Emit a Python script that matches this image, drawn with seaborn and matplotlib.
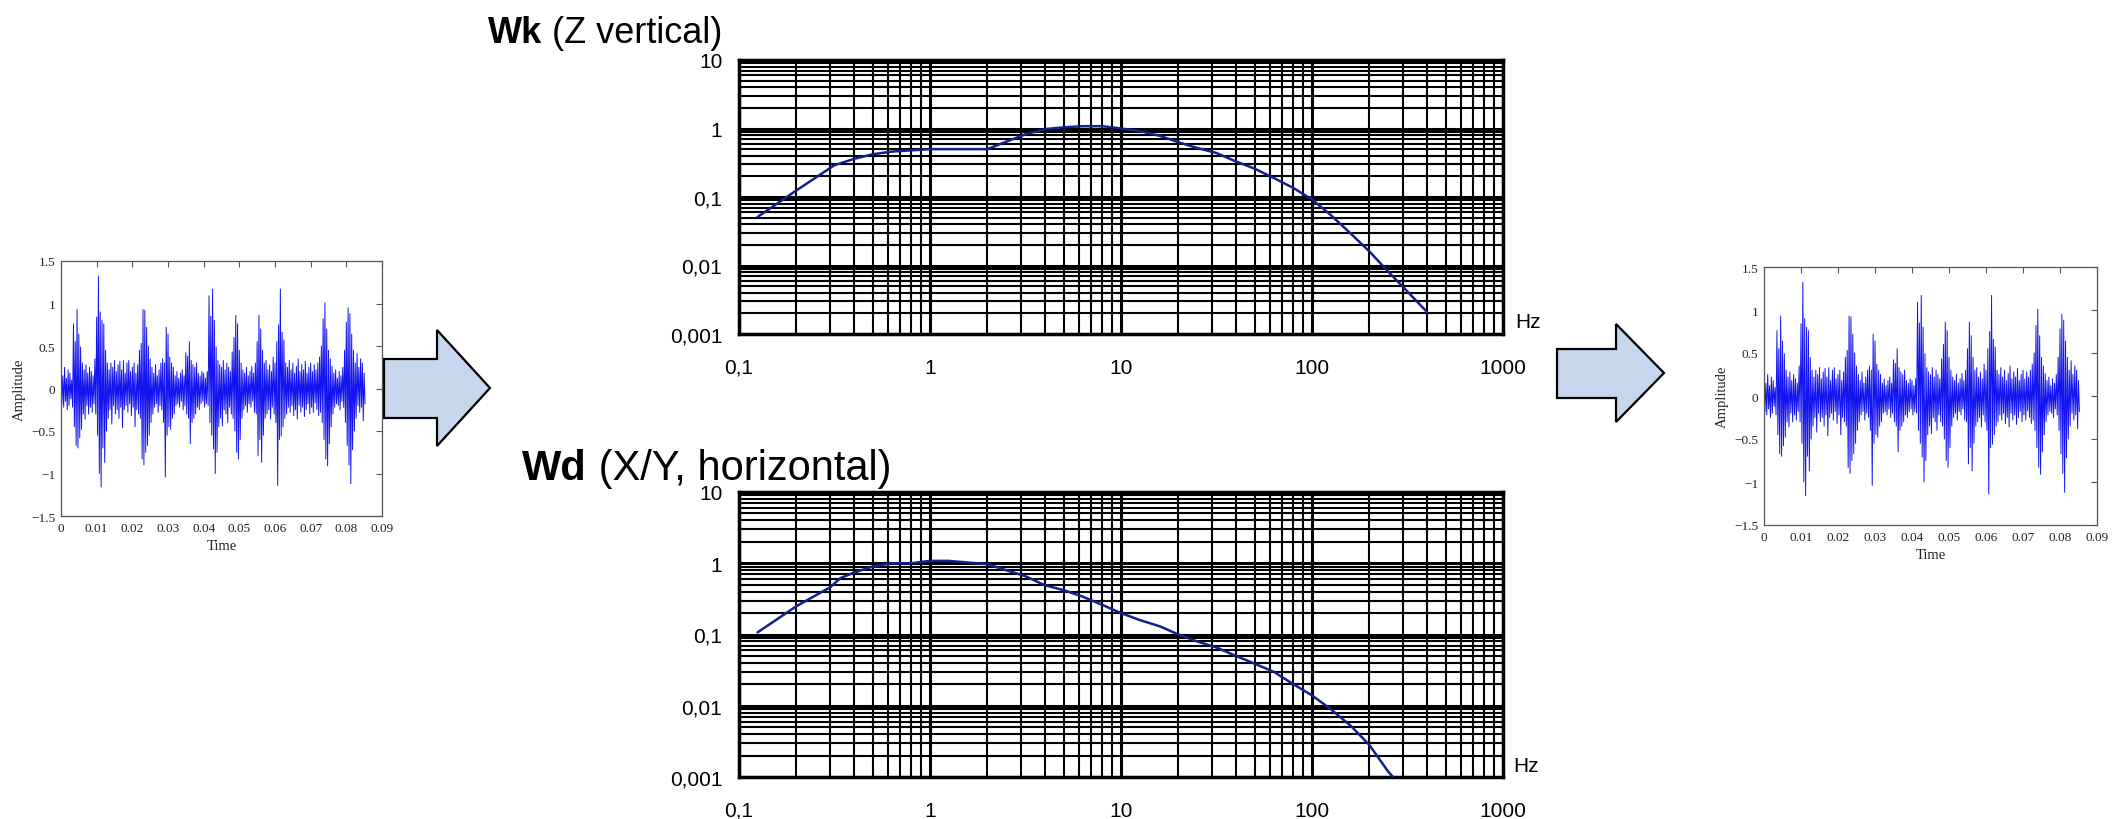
import numpy as np
import pandas as pd
import seaborn as sns
import matplotlib.pyplot as plt
from matplotlib.patches import Polygon
from matplotlib.ticker import LogLocator, NullFormatter

# frequency weighting curves
wk_freq = [0.125, 0.2, 0.315, 0.4, 0.5, 0.63, 0.8, 1.0, 2.0, 2.5, 3.15, 4.0, 5.0, 6.3, 8.0,
           10, 12.5, 16, 20, 25, 31.5, 40, 50, 63, 80, 100, 125, 160, 200, 250, 315, 400]
wk_gain = [0.051, 0.125, 0.29, 0.36, 0.42, 0.46, 0.48, 0.50, 0.50, 0.64, 0.82, 0.98, 1.04, 1.08, 1.08,
           1.0, 0.92, 0.78, 0.63, 0.52, 0.44, 0.33, 0.26, 0.19, 0.135, 0.092, 0.055, 0.029, 0.016,
           0.0082, 0.0042, 0.0021]
wd_freq = [0.125, 0.2, 0.3, 0.34, 0.4, 0.5, 0.63, 0.8, 1.0, 1.25, 2.0, 2.5, 3.15, 4.0, 5.0, 6.3, 8.0,
           10, 12.5, 16, 20, 25, 31.5, 40, 50, 63, 80, 100, 125, 160, 200, 250, 315]
wd_gain = [0.107, 0.25, 0.46, 0.62, 0.74, 0.90, 1.0, 1.0, 1.08, 1.08, 0.97, 0.80, 0.66, 0.49, 0.42, 0.34,
           0.26, 0.20, 0.16, 0.13, 0.10, 0.08, 0.066, 0.05, 0.039, 0.03, 0.02, 0.014, 0.009, 0.0052,
           0.0028, 0.0012, 0.0006]

# signal: upper / lower swing in every 0.5 ms slot
sig_step = 0.0005
sig_hi = [0.20, 0.15, 0.25, 0.12, 0.22, 0.18, 0.10, 0.76, 0.55, 0.93,
          0.64, 0.49, 0.30, 0.22, 0.28, 0.18, 0.25, 0.20, 0.15, 0.35,
          0.84, 1.32, 0.90, 0.80, 0.76, 0.45, 0.30, 0.22, 0.30, 0.25,
          0.33, 0.20, 0.28, 0.32, 0.22, 0.33, 0.18, 0.30, 0.33, 0.20,
          0.25, 0.30, 0.18, 0.28, 0.45, 0.53, 0.93, 0.92, 0.72, 0.50,
          0.35, 0.25, 0.18, 0.28, 0.15, 0.22, 0.30, 0.35, 0.30, 0.72,
          0.64, 0.37, 0.30, 0.25, 0.15, 0.20, 0.12, 0.18, 0.22, 0.15,
          0.42, 0.38, 0.55, 0.33, 0.28, 0.25, 0.30, 0.18, 0.15, 0.20,
          0.18, 0.12, 0.20, 1.09, 0.85, 1.17, 0.80, 0.49, 0.33, 0.28,
          0.25, 0.33, 0.22, 0.30, 0.25, 0.20, 0.43, 0.60, 0.86, 0.76,
          0.45, 0.30, 0.22, 0.18, 0.25, 0.15, 0.20, 0.26, 0.18, 0.30,
          0.55, 0.86, 0.70, 0.45, 0.30, 0.33, 0.22, 0.28, 0.20, 0.37,
          0.30, 0.55, 0.75, 1.17, 0.66, 0.57, 0.30, 0.25, 0.33, 0.22,
          0.30, 0.18, 0.26, 0.35, 0.20, 0.28, 0.22, 0.32, 0.18, 0.25,
          0.30, 0.20, 0.28, 0.22, 0.30, 0.37, 0.50, 0.82, 1.01, 0.70,
          0.45, 0.35, 0.26, 0.18, 0.22, 0.12, 0.20, 0.15, 0.25, 0.45,
          0.78, 0.95, 0.88, 0.64, 0.45, 0.30, 0.41, 0.25, 0.35, 0.30,
          0.18]
sig_lo = [-0.18, -0.22, -0.15, -0.25, -0.20, -0.12, -0.22, -0.45, -0.67, -0.70,
          -0.58, -0.48, -0.30, -0.36, -0.20, -0.30, -0.22, -0.28, -0.18, -0.30,
          -0.55, -1.00, -1.16, -0.70, -0.87, -0.50, -0.35, -0.25, -0.42, -0.20,
          -0.30, -0.25, -0.35, -0.22, -0.46, -0.25, -0.20, -0.28, -0.18, -0.32,
          -0.22, -0.45, -0.25, -0.30, -0.35, -0.83, -0.90, -0.75, -0.67, -0.55,
          -0.40, -0.30, -0.22, -0.18, -0.28, -0.20, -0.25, -0.40, -1.04, -0.55,
          -0.45, -0.48, -0.35, -0.30, -0.20, -0.18, -0.22, -0.15, -0.25, -0.20,
          -0.30, -0.35, -0.65, -0.40, -0.35, -0.30, -0.22, -0.25, -0.18, -0.15,
          -0.22, -0.18, -0.20, -0.40, -0.55, -0.71, -1.00, -0.75, -0.45, -0.35,
          -0.44, -0.25, -0.30, -0.40, -0.22, -0.30, -0.35, -0.50, -0.75, -0.83,
          -0.60, -0.35, -0.25, -0.20, -0.28, -0.18, -0.22, -0.15, -0.28, -0.30,
          -0.79, -0.60, -0.87, -0.55, -0.35, -0.30, -0.25, -0.36, -0.22, -0.30,
          -0.40, -1.14, -0.60, -0.56, -0.45, -0.35, -0.30, -0.22, -0.28, -0.20,
          -0.32, -0.25, -0.36, -0.20, -0.28, -0.22, -0.33, -0.25, -0.18, -0.30,
          -0.22, -0.28, -0.17, -0.25, -0.32, -0.28, -0.40, -0.60, -0.83, -0.91,
          -0.65, -0.45, -0.30, -0.22, -0.18, -0.20, -0.25, -0.15, -0.22, -0.40,
          -0.67, -0.90, -1.12, -0.72, -0.50, -0.35, -0.20, -0.28, -0.22, -0.38,
          -0.18]

freq_ticks = [0.1, 1, 10, 100, 1000]
freq_labels = ['0,1', '1', '10', '100', '1000']
gain_ticks = [0.001, 0.01, 0.1, 1, 10]
gain_labels = ['0,001', '0,01', '0,1', '1', '10']
time_ticks = [0, 0.01, 0.02, 0.03, 0.04, 0.05, 0.06, 0.07, 0.08, 0.09]
time_labels = ['0', '0.01', '0.02', '0.03', '0.04', '0.05', '0.06', '0.07', '0.08', '0.09']
amp_ticks = [-1.5, -1, -0.5, 0, 0.5, 1, 1.5]
amp_labels = ['\u22121.5', '\u22121', '\u22120.5', '0', '0.5', '1', '1.5']

W, H = 2123, 820
sns.set_theme(style='white')
plt.rcParams['font.family'] = ['Liberation Sans', 'DejaVu Sans']
plt.rcParams['text.color'] = 'black'

fig = plt.figure(figsize=(W / 100, H / 100), dpi=100)


def px_box(x0, y0, x1, y1):
    return [x0 / W, 1 - y1 / H, (x1 - x0) / W, (y1 - y0) / H]


# arrows, in pixel coordinates of the whole figure
bg = fig.add_axes([0, 0, 1, 1])
bg.set_xlim(0, W)
bg.set_ylim(H, 0)
bg.axis('off')
for pts in ([(384, 360), (437, 360), (437, 331), (490, 389), (437, 447), (437, 419), (384, 419)],
            [(1557, 350), (1616, 350), (1616, 325), (1664, 374), (1616, 423), (1616, 399), (1557, 399)]):
    bg.add_patch(Polygon(pts, closed=True, facecolor='#c6d6ec', edgecolor='black', lw=1.6))

n = len(sig_hi)
t0 = np.arange(n) * sig_step
sig = pd.DataFrame({'Time': np.column_stack([t0, t0 + sig_step / 2]).ravel(),
                    'Amplitude': np.column_stack([sig_hi, sig_lo]).ravel()})

serif = ['Liberation Serif', 'DejaVu Serif']


def signal_panel(box):
    ax = fig.add_axes(px_box(*box))
    sns.lineplot(data=sig, x='Time', y='Amplitude', sort=False, estimator=None,
                 color='#1414f0', lw=0.7, ax=ax)
    ax.set_xlim(0, 0.09)
    ax.set_ylim(-1.5, 1.5)
    ax.set_xticks(time_ticks)
    ax.set_xticklabels(time_labels, family=serif)
    ax.set_yticks(amp_ticks)
    ax.set_yticklabels(amp_labels, family=serif)
    ax.tick_params(direction='in', top=True, right=True, length=4, width=0.8,
                   color='#555555', labelsize=9.5, labelcolor='#222222', pad=4)
    for s in ax.spines.values():
        s.set_color('#555555')
        s.set_linewidth(0.9)
    ax.set_xlabel('Time', family=serif, fontsize=10.5, color='#222222', labelpad=4)
    ax.set_ylabel('Amplitude', family=serif, fontsize=10.5, color='#222222', labelpad=4)
    ax.set_facecolor('white')
    return ax


signal_panel((61, 262, 382, 517))
signal_panel((1764, 268, 2097, 526))


def weight_panel(box, f, g):
    ax = fig.add_axes(px_box(*box))
    ax.set_xscale('log')
    ax.set_yscale('log')
    sns.lineplot(x=f, y=g, color='#14208c', lw=1.8, ax=ax, zorder=5)
    ax.set_xlim(0.1, 1000)
    ax.set_ylim(0.001, 10)
    for axis in (ax.xaxis, ax.yaxis):
        axis.set_minor_locator(LogLocator(base=10, subs=np.arange(2, 10)))
        axis.set_minor_formatter(NullFormatter())
    ax.set_xticks(freq_ticks)
    ax.set_xticklabels(freq_labels)
    ax.set_yticks(gain_ticks)
    ax.set_yticklabels(gain_labels)
    ax.grid(which='major', color='black', lw=2.2)
    ax.grid(which='minor', color='black', lw=1.5)
    ax.tick_params(which='both', length=0, labelsize=15, labelcolor='black')
    ax.tick_params(axis='x', pad=17)
    ax.tick_params(axis='y', pad=12)
    for s in ax.spines.values():
        s.set_color('black')
        s.set_linewidth(2.5)
    ax.set_facecolor('white')
    return ax


weight_panel((739, 61, 1503, 335), wk_freq, wk_gain)
weight_panel((739, 493, 1503, 778), wd_freq, wd_gain)

fig.text(1515 / W, 1 - 323 / H, 'Hz', ha='left', va='center', fontsize=15)
fig.text(1513 / W, 1 - 767 / H, 'Hz', ha='left', va='center', fontsize=15)

renderer = fig.canvas.get_renderer()
for x, y, size, bold, rest in ((488, 43, 26, 'Wk', ' (Z vertical)'),
                               (522, 480, 30, 'Wd', ' (X/Y, horizontal)')):
    tb = fig.text(x / W, 1 - y / H, bold, fontsize=size, fontweight='bold', ha='left', va='baseline')
    bb = tb.get_window_extent(renderer)
    fig.text(bb.x1 / W, 1 - y / H, rest, fontsize=size, ha='left', va='baseline')

fig.savefig('out.png', dpi=100, facecolor='white')
